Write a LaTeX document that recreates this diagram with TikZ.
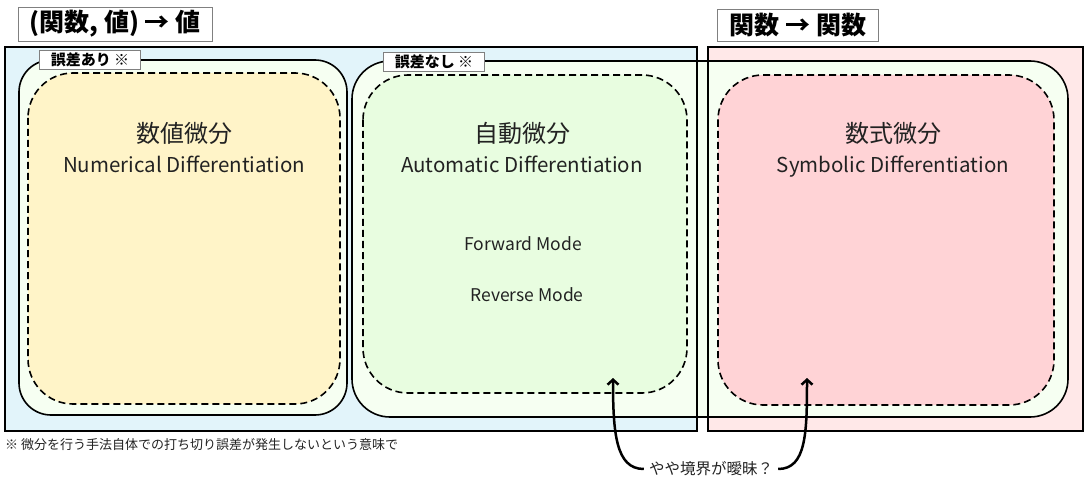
\documentclass[tikz,border=0pt]{standalone}
\usepackage{fontspec}
\setmainfont{Noto Sans CJK JP}
\usetikzlibrary{positioning,arrows.meta}
\definecolor{valblue}{HTML}{E2F4FA}
\definecolor{fnpink}{HTML}{FFE8E8}
\definecolor{framegreen}{HTML}{F6FFF2}
\definecolor{numyellow}{HTML}{FFF4C8}
\definecolor{autogreen}{HTML}{E8FDE0}
\definecolor{sympink}{HTML}{FFD3D6}
\definecolor{inkgray}{HTML}{222222}

\begin{document}
\begin{tikzpicture}[x=1pt,y=-1pt,>={Straight Barb[length=5pt,width=11pt]},
  frame/.style={draw,line width=1.6pt,fill=framegreen,rounded corners=32pt},
  method/.style={draw,line width=1.6pt,dash pattern=on 7pt off 4pt,rounded corners=45pt},
  bigtag/.style={draw=gray,line width=0.8pt,fill=white,inner sep=0pt,
    font=\bfseries\fontsize{25}{28}\selectfont},
  smalltag/.style={draw=gray,line width=0.6pt,fill=white,inner sep=0pt,
    font=\bfseries\fontsize{15}{17}\selectfont},
  janame/.style={text=inkgray,font=\fontsize{24}{28}\selectfont},
  enname/.style={text=inkgray,font=\fontsize{20.5}{24}\selectfont},
  modename/.style={text=inkgray,font=\fontsize{17.5}{20}\selectfont}]
\useasboundingbox (0,0) rectangle (1088,492);

% backgrounds of the two groups
\fill[valblue] (5,47) rectangle (697,431);
\fill[fnpink] (708,47) rectangle (1083,431);

% error / no error frames
\draw[frame] (19,60) rectangle (347,415);
\draw[frame,rounded corners=38pt] (352,61) rectangle (1068,417);

% methods
\draw[method,fill=numyellow] (28,73) rectangle (340,404);
\draw[method,fill=autogreen] (363,75) rectangle (687,393);
\draw[method,fill=sympink] (718,75) rectangle (1054,405);

% group borders on top
\draw[line width=2pt] (5,47) rectangle (697,431);
\draw[line width=2pt] (708,47) rectangle (1083,431);

% tags
\node[bigtag,minimum width=194pt,minimum height=34pt] (valtag) at (115,24) {(関数, 値) → 値};
\node[bigtag,minimum width=161pt,minimum height=32pt] (fntag) at (798,25) {関数 → 関数};
\node[smalltag,minimum width=101pt,minimum height=19pt] (errtag) at (90,59.5) {誤差あり ※};
\node[smalltag,minimum width=101pt,minimum height=19pt] (noerrtag) at (434,61.5) {誤差なし ※};

% names
\node[janame] (numja) at (184,133) {数値微分};
\node[enname] (numen) [below=5pt of numja] {Numerical Differentiation};
\node[janame] (autoja) at (522,133) {自動微分};
\node[enname] (autoen) [below=5pt of autoja] {Automatic Differentiation};
\node[janame] (symja) at (893,133) {数式微分};
\node[enname] (symen) [below=5pt of symja] {Symbolic Differentiation};

\node[modename] (fwd) at (523,244) {Forward Mode};
\node[modename] (rev) at (527,295) {Reverse Mode};

% notes
\node[text=inkgray,font=\fontsize{13}{15}\selectfont,anchor=west,inner sep=0pt] (footnote) at (5,445)
  {※ 微分を行う手法自体での打ち切り誤差が発生しないという意味で};
\node[text=inkgray,font=\fontsize{15.5}{18}\selectfont,inner sep=5pt] (vague) at (711,469) {やや境界が曖昧？};

\coordinate (fwdtip) at (613,378);
\coordinate (symtip) at (807,378);
\draw[->,line width=2.5pt] (vague.west) .. controls +(-28,0) and +(0,55) .. (fwdtip);
\draw[->,line width=2.5pt] (vague.east) .. controls +(28,0) and +(0,55) .. (symtip);
\end{tikzpicture}
\end{document}
